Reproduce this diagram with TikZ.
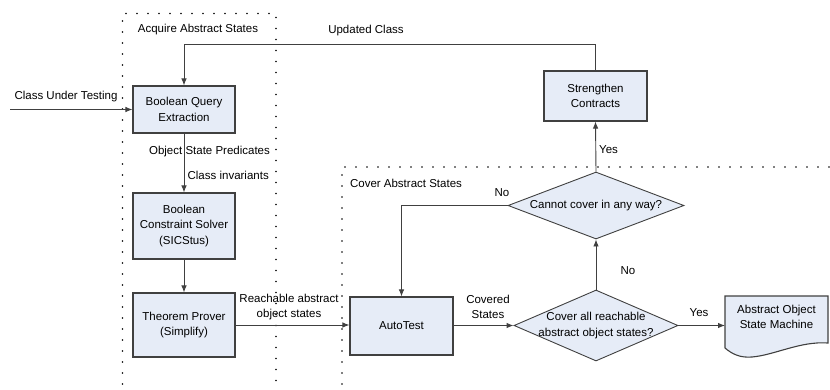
\documentclass[tikz,border=0pt]{standalone}
\usepackage{fontspec}
\setmainfont{Liberation Sans}
\usepackage{tikz}
\usetikzlibrary{
  arrows.meta,
  calc,
  positioning,
  shapes.geometric
}
\definecolor{StFill}{RGB}{230,236,247}
\definecolor{StLine}{RGB}{64,64,64}

\begin{document}
\begin{tikzpicture}[
  x=1pt, y=-1pt,
  font=\fontsize{11.5}{15.5}\selectfont,
  >={Latex[length=7pt,width=5.5pt]},
  box/.style={draw=StLine, fill=StFill, line width=1.1pt, align=center, inner sep=2pt},
  decide/.style={diamond, draw=StLine, fill=StFill, line width=0.9pt, align=center, inner sep=-8pt},
  arr/.style={->, draw=StLine, line width=0.9pt},
  lbl/.style={align=center, inner sep=1pt},
  region/.style={line width=1.6pt, line cap=round, dash pattern=on 0pt off 11pt},
]
  \useasboundingbox (0,0) rectangle (830,389);

  % regions
  \draw[region] (122.5,395) -- (122.5,13.5) -- (276,13.5) -- (276,395);
  \draw[region] (342,395) -- (342,167) -- (834,167);
  \node[lbl] (lacq) at (198,30) {Acquire Abstract States};
  \node[lbl] (lcover) at (406,183) {Cover Abstract States};

  % acquire
  \node[box, minimum width=102pt, minimum height=47pt] (bqe) at (184,109.5) {Boolean Query\\Extraction};
  \node[box, minimum width=102pt, minimum height=66pt] (bcs) at (184,226) {Boolean\\Constraint Solver\\(SICStus)};
  \node[box, minimum width=102pt, minimum height=64pt] (tp) at (184,325) {Theorem Prover\\(Simplify)};

  % cover
  \node[box, minimum width=103pt, minimum height=58pt] (auto) at (401.5,326) {AutoTest};
  \node[decide, aspect=2.31, minimum width=164pt, minimum height=71pt] (cover) at (596,325.5) {Cover all reachable\\abstract object states?};
  \node[decide, aspect=2.63, minimum width=176pt, minimum height=67pt] (cannot) at (596,205.5) {Cannot cover in any way?};
  \node[box, minimum width=103pt, minimum height=50pt] (sc) at (595.5,96) {Strengthen\\Contracts};

  % document
  \draw[StLine, line width=1.1pt, fill=StFill] (725,348) -- (725,296) -- (828,296) -- (828,343)
    .. controls (800,341) and (775,355) .. (752,357) .. controls (740,358) and (732,354) .. (725,348);
  \node[lbl] (aosm) at (776.5,317) {Abstract Object\\State Machine};
  \coordinate (docin) at (725,325.5);

  % connectors
  \coordinate (cut) at (10,109.5);
  \draw[arr] (cut) -- (bqe.west);
  \node[lbl] (lcut) at (66,97) {Class Under Testing};

  \draw[arr] (bqe.south) -- (bcs.north);
  \node[lbl] (lpred) at (209.5,152) {Object State Predicates};
  \node[lbl, anchor=east] (linv) at (270,175) {Class invariants};

  \draw[arr] (bcs.south) -- (tp.north);

  \draw[arr] (tp.east) -- (tp.east -| auto.west);
  \node[lbl] (lreach) at (289,307) {Reachable abstract\\object states};

  \draw[arr] (auto.east |- cover.west) -- (cover.west);
  \node[lbl] (lcov) at (488,307) {Covered\\States};

  \draw[arr] (cover.east) -- (docin);
  \node[lbl] (lyes1) at (699,313) {Yes};

  \draw[arr] (cover.north) -- (cannot.south);
  \node[lbl] (lno1) at (628,271) {No};

  \draw[arr] (cannot.north) -- (sc.south);
  \node[lbl, anchor=west] (lyes2) at (598,150) {Yes};

  \draw[arr] (cannot.west) -| (auto.north);
  \node[lbl] (lno2) at (502,193) {No};

  \coordinate (upd) at (400,44);
  \draw[arr] (sc.north) -- (sc.north |- upd) -| (bqe.north);
  \node[lbl] (lupd) at (366,31) {Updated Class};
\end{tikzpicture}
\end{document}
